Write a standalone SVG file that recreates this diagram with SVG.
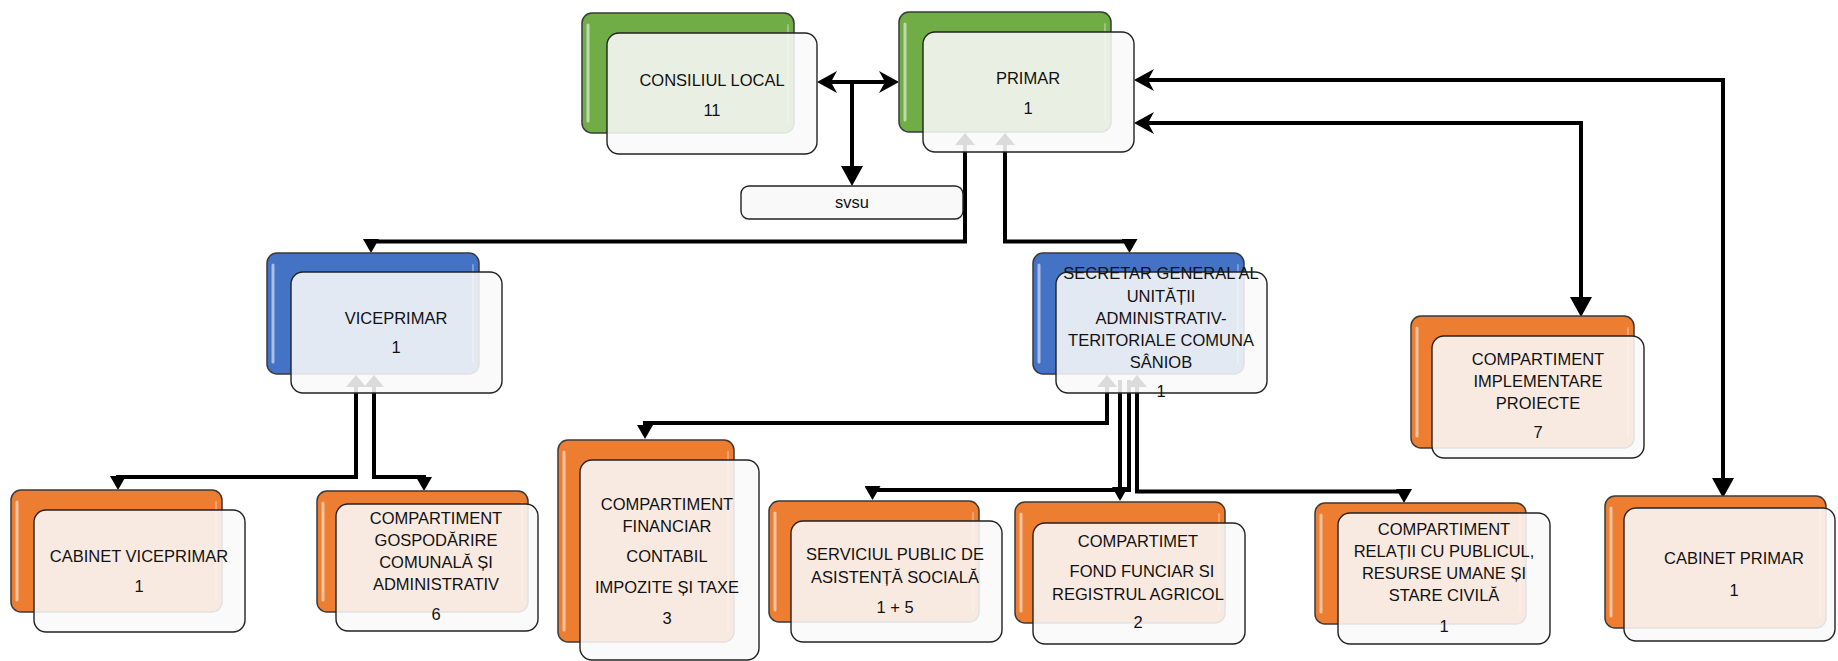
<svg xmlns="http://www.w3.org/2000/svg" width="1838" height="661" viewBox="0 0 1838 661">
<defs>
<style>
.bg{fill:#ffffff}
.back{stroke:#3a3a3a;stroke-width:1.5}
.g{fill:#70AD47}.b{fill:#4472C4}.o{fill:#ED7D31}
.hl{stroke:#ffffff;stroke-width:3;stroke-linecap:round;opacity:0.55;fill:none}
.hr{stroke:#ffffff;stroke-width:2;stroke-linecap:round;opacity:0.3;fill:none}
.front{fill:#f9f9f9;fill-opacity:0.88;stroke:#222;stroke-width:1.4}
.box{fill:#f9f9f9;stroke:#222;stroke-width:1.4}
.t{font-family:"Liberation Sans",Arial,sans-serif;font-size:16.5px;fill:#111;text-anchor:middle}
.c{fill:none;stroke:#000;stroke-width:4}
</style>
<marker id="ts" markerUnits="userSpaceOnUse" markerWidth="14" markerHeight="16" refX="10" refY="8" orient="auto-start-reverse" viewBox="0 0 14 16"><path d="M0,0 L14,8 L0,16 z" fill="#000"/></marker>
<marker id="tl" markerUnits="userSpaceOnUse" markerWidth="20" markerHeight="22" refX="1" refY="11" orient="auto-start-reverse" viewBox="0 0 20 22"><path d="M0,0 L20,11 L0,22 z" fill="#000"/></marker>
<marker id="tu" markerUnits="userSpaceOnUse" markerWidth="12" markerHeight="20" refX="1" refY="10" orient="auto-start-reverse" viewBox="0 0 12 20"><path d="M0,0 L12,10 L0,20 z" fill="#000"/></marker>
<marker id="st" markerUnits="userSpaceOnUse" markerWidth="20" markerHeight="22" refX="7" refY="11" orient="auto-start-reverse" viewBox="0 0 20 22"><path d="M0,0 L20,11 L0,22 L6,11 z" fill="#000"/></marker>
</defs>
<rect class="bg" x="0" y="0" width="1838" height="661"/>
<g id="connectors">
<path class="c" d="M830,82 H886" marker-start="url(#st)" marker-end="url(#st)"/>
<path class="c" d="M852,82 V167" marker-end="url(#tl)"/>
<path class="c" d="M1147,80 H1723 V479" marker-start="url(#st)" marker-end="url(#tl)"/>
<path class="c" d="M1147,123 H1581 V298" marker-start="url(#st)" marker-end="url(#tl)"/>
<path class="c" d="M965,144 V241.5 H371 V249" marker-start="url(#tu)" marker-end="url(#ts)"/>
<path class="c" d="M1005,144 V241.5 H1129.5 V249" marker-start="url(#tu)" marker-end="url(#ts)"/>
<path class="c" d="M356,386 V477 H118 V486" marker-start="url(#tu)" marker-end="url(#ts)"/>
<path class="c" d="M374,386 V477 H424 V487" marker-start="url(#tu)" marker-end="url(#ts)"/>
<path class="c" d="M1107,386 V423 H645 V435" marker-start="url(#tu)" marker-end="url(#ts)"/>
<path class="c" d="M1120,380 V497" marker-end="url(#ts)"/>
<path class="c" d="M1129,380 V490 H872.5 V496" marker-end="url(#ts)"/>
<path class="c" d="M1137,386 V491.5 H1404 V499" marker-start="url(#tu)" marker-end="url(#ts)"/>
</g>
<g id="consiliul-local">
<rect class="back g" x="582" y="13" width="212" height="120" rx="10"/>
<line class="hl" x1="588" y1="25" x2="588" y2="121"/><line class="hr" x1="788" y1="25" x2="788" y2="121"/>
<rect class="front" x="607" y="33" width="210" height="121" rx="12"/>
<text class="t" x="712" y="86">CONSILIUL LOCAL</text>
<text class="t" x="712" y="116">11</text>
</g>
<g id="primar">
<rect class="back g" x="899" y="12" width="212" height="120" rx="10"/>
<line class="hl" x1="905" y1="24" x2="905" y2="120"/><line class="hr" x1="1105" y1="24" x2="1105" y2="120"/>
<rect class="front" x="923" y="32" width="211" height="120" rx="12"/>
<text class="t" x="1028" y="84">PRIMAR</text>
<text class="t" x="1028" y="114">1</text>
</g>
<g id="svsu">
<rect class="box" x="741" y="186" width="222" height="33" rx="8"/>
<text class="t" x="852" y="208">svsu</text>
</g>
<g id="viceprimar">
<rect class="back b" x="267" y="253" width="212" height="121" rx="10"/>
<line class="hl" x1="273" y1="265" x2="273" y2="362"/><line class="hr" x1="473" y1="265" x2="473" y2="362"/>
<rect class="front" x="291" y="272" width="211" height="121" rx="12"/>
<text class="t" x="396" y="324">VICEPRIMAR</text>
<text class="t" x="396" y="353">1</text>
</g>
<g id="secretar">
<rect class="back b" x="1033" y="253" width="211" height="121" rx="10"/>
<line class="hl" x1="1039" y1="265" x2="1039" y2="362"/><line class="hr" x1="1238" y1="265" x2="1238" y2="362"/>
<rect class="front" x="1056" y="272" width="211" height="121" rx="12"/>
<text class="t" x="1161" y="279">SECRETAR GENERAL AL</text>
<text class="t" x="1161" y="302">UNITĂȚII</text>
<text class="t" x="1161" y="324">ADMINISTRATIV-</text>
<text class="t" x="1161" y="346">TERITORIALE COMUNA</text>
<text class="t" x="1161" y="368">SÂNIOB</text>
<text class="t" x="1161" y="397">1</text>
</g>
<g id="implementare">
<rect class="back o" x="1411" y="316" width="223" height="132" rx="10"/>
<line class="hl" x1="1417" y1="328" x2="1417" y2="436"/><line class="hr" x1="1628" y1="328" x2="1628" y2="436"/>
<rect class="front" x="1432" y="336" width="212" height="122" rx="12"/>
<text class="t" x="1538" y="365">COMPARTIMENT</text>
<text class="t" x="1538" y="387">IMPLEMENTARE</text>
<text class="t" x="1538" y="409">PROIECTE</text>
<text class="t" x="1538" y="438">7</text>
</g>
<g id="cabinet-primar">
<rect class="back o" x="1605" y="496" width="221" height="132" rx="10"/>
<line class="hl" x1="1611" y1="508" x2="1611" y2="616"/><line class="hr" x1="1820" y1="508" x2="1820" y2="616"/>
<rect class="front" x="1624" y="508" width="211" height="133" rx="12"/>
<text class="t" x="1734" y="564">CABINET PRIMAR</text>
<text class="t" x="1734" y="596">1</text>
</g>
<g id="cabinet-viceprimar">
<rect class="back o" x="11" y="490" width="211" height="122" rx="10"/>
<line class="hl" x1="17" y1="502" x2="17" y2="600"/><line class="hr" x1="216" y1="502" x2="216" y2="600"/>
<rect class="front" x="34" y="510" width="211" height="122" rx="12"/>
<text class="t" x="139" y="562">CABINET VICEPRIMAR</text>
<text class="t" x="139" y="592">1</text>
</g>
<g id="gospodarire">
<rect class="back o" x="317" y="491" width="211" height="121" rx="10"/>
<line class="hl" x1="323" y1="503" x2="323" y2="600"/><line class="hr" x1="522" y1="503" x2="522" y2="600"/>
<rect class="front" x="336" y="504" width="202" height="127" rx="12"/>
<text class="t" x="436" y="524">COMPARTIMENT</text>
<text class="t" x="436" y="546">GOSPODĂRIRE</text>
<text class="t" x="436" y="568">COMUNALĂ ȘI</text>
<text class="t" x="436" y="590">ADMINISTRATIV</text>
<text class="t" x="436" y="620">6</text>
</g>
<g id="financiar">
<rect class="back o" x="558" y="440" width="176" height="202" rx="10"/>
<line class="hl" x1="564" y1="452" x2="564" y2="630"/><line class="hr" x1="728" y1="452" x2="728" y2="630"/>
<rect class="front" x="580" y="460" width="179" height="200" rx="12"/>
<text class="t" x="667" y="510">COMPARTIMENT</text>
<text class="t" x="667" y="532">FINANCIAR</text>
<text class="t" x="667" y="562">CONTABIL</text>
<text class="t" x="667" y="593">IMPOZITE ȘI TAXE</text>
<text class="t" x="667" y="624">3</text>
</g>
<g id="asistenta-sociala">
<rect class="back o" x="769" y="501" width="210" height="121" rx="10"/>
<line class="hl" x1="775" y1="513" x2="775" y2="610"/><line class="hr" x1="973" y1="513" x2="973" y2="610"/>
<rect class="front" x="791" y="521" width="211" height="121" rx="12"/>
<text class="t" x="895" y="560">SERVICIUL PUBLIC DE</text>
<text class="t" x="895" y="583">ASISTENȚĂ SOCIALĂ</text>
<text class="t" x="895" y="613">1 + 5</text>
</g>
<g id="fond-funciar">
<rect class="back o" x="1015" y="502" width="210" height="121" rx="10"/>
<line class="hl" x1="1021" y1="514" x2="1021" y2="611"/><line class="hr" x1="1219" y1="514" x2="1219" y2="611"/>
<rect class="front" x="1033" y="523" width="212" height="121" rx="12"/>
<text class="t" x="1138" y="547">COMPARTIMET</text>
<text class="t" x="1142" y="577">FOND FUNCIAR SI</text>
<text class="t" x="1138" y="600">REGISTRUL AGRICOL</text>
<text class="t" x="1138" y="628">2</text>
</g>
<g id="relatii-publicul">
<rect class="back o" x="1315" y="503" width="211" height="121" rx="10"/>
<line class="hl" x1="1321" y1="515" x2="1321" y2="612"/><line class="hr" x1="1520" y1="515" x2="1520" y2="612"/>
<rect class="front" x="1338" y="513" width="212" height="131" rx="12"/>
<text class="t" x="1444" y="535">COMPARTIMENT</text>
<text class="t" x="1444" y="557">RELAȚII CU PUBLICUL,</text>
<text class="t" x="1444" y="579">RESURSE UMANE ȘI</text>
<text class="t" x="1444" y="601">STARE CIVILĂ</text>
<text class="t" x="1444" y="632">1</text>
</g>
</svg>
